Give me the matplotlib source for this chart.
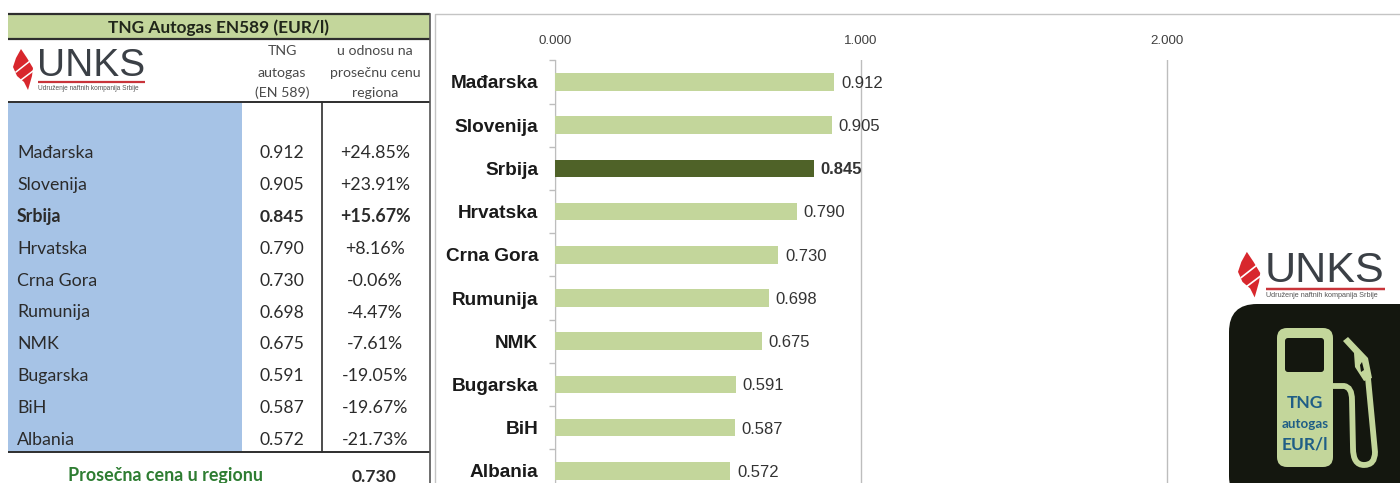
"""
plot.py
Tabla y barras de precios TNG autogas (EUR/l) en la región.
"""

import matplotlib
matplotlib.use("Agg")
import matplotlib.pyplot as plt
from matplotlib.patches import FancyBboxPatch, PathPatch, Polygon, Rectangle
from matplotlib.path import Path

COUNTRIES = ["Mađarska", "Slovenija", "Srbija", "Hrvatska", "Crna Gora",
             "Rumunija", "NMK", "Bugarska", "BiH", "Albania"]
PRICES = [0.912, 0.905, 0.845, 0.790, 0.730, 0.698, 0.675, 0.591, 0.587, 0.572]
PRICE_LABELS = ["0.912", "0.905", "0.845", "0.790", "0.730",
                "0.698", "0.675", "0.591", "0.587", "0.572"]
DIFF_LABELS = ["+24.85%", "+23.91%", "+15.67%", "+8.16%", "-0.06%",
               "-4.47%", "-7.61%", "-19.05%", "-19.67%", "-21.73%"]
HIGHLIGHT = "Srbija"
AVERAGE_LABEL = "0.730"
XTICKS = [0, 1, 2]
XTICK_LABELS = ["0.000", "1.000", "2.000"]

W, H = 1400, 483
TABLE_FONT = "Lato"
CHART_FONT = "Liberation Sans"
LIGHT_GREEN = "#C3D69B"
DARK_GREEN = "#4F6228"
BLUE = "#A6C3E6"
LINE = "#2E2E2E"
TEXT = "#2B2B2B"
PUMP_BLACK = "#14170F"


def draw_logo(ax, x, y, s):
    """Logo UNKS; x,y = esquina sup. izq. de la llama, s = escala."""
    flame = [(8, -1), (14, 8), (20, 18), (19, 26), (15, 40), (11, 32),
             (4, 26), (0, 17), (3, 8)]
    ax.add_patch(Polygon([(x + px * s, y + py * s) for px, py in flame],
                         closed=True, fc="#D8272D", ec="none", zorder=6))
    for (x0, y0), (x1, y1) in (((3, 22), (17, 11)), ((8, 30), (20, 21))):
        ax.plot([x + x0 * s, x + x1 * s], [y + y0 * s, y + y1 * s],
                color="white", lw=1.1 * s, zorder=7)
    ax.text(x + 24 * s, y + 16.5 * s, "UNKS", family=CHART_FONT, fontsize=28 * s,
            color="#3B4046", ha="left", va="center", zorder=6)
    ax.plot([x + 25 * s, x + 132 * s], [y + 32 * s, y + 32 * s], color="#C8343A",
            lw=1.6 * s, solid_capstyle="butt", zorder=6)
    ax.text(x + 25 * s, y + 38 * s, "Udruženje naftnih kompanija Srbije",
            family=CHART_FONT, fontsize=4.7 * s, color="#555555",
            ha="left", va="center", zorder=6)


def draw_pump(ax):
    ax.add_patch(FancyBboxPatch((1229, 304), 200, 200, boxstyle="round,pad=0,rounding_size=28",
                                mutation_scale=1, fc=PUMP_BLACK, ec="none", zorder=5))
    ax.add_patch(FancyBboxPatch((1277, 328), 56, 139, boxstyle="round,pad=0,rounding_size=10",
                                mutation_scale=1, fc=LIGHT_GREEN, ec="none", zorder=6))
    ax.add_patch(FancyBboxPatch((1285, 338), 39, 34, boxstyle="round,pad=0,rounding_size=3",
                                mutation_scale=1, fc=PUMP_BLACK, ec="none", zorder=7))
    hose = Path([(1332, 386), (1344, 386), (1352, 387), (1352, 400),
                 (1353, 448), (1353, 465), (1364, 465), (1375, 465),
                 (1375, 452), (1372, 420), (1368, 378)],
                [Path.MOVETO, Path.LINETO, Path.CURVE3, Path.CURVE3,
                 Path.LINETO, Path.CURVE3, Path.CURVE3, Path.CURVE3,
                 Path.CURVE3, Path.LINETO, Path.LINETO])
    ax.add_patch(PathPatch(hose, fc="none", ec=LIGHT_GREEN, lw=4.2, zorder=6))
    ax.add_patch(Polygon([(1343, 341), (1348, 337), (1368, 358), (1372, 378),
                          (1364, 381), (1355, 367), (1354, 353)],
                         closed=True, fc=LIGHT_GREEN, ec="none", zorder=6))
    ax.add_patch(Polygon([(1360, 365), (1362, 362), (1364, 370), (1361, 372)],
                         closed=True, fc=PUMP_BLACK, ec="none", zorder=7))
    for label, ypos, size in (("TNG", 403, 12.5), ("autogas", 424, 9.6), ("EUR/l", 445, 12.5)):
        ax.text(1305, ypos, label, family=TABLE_FONT, fontweight="bold", fontsize=size,
                color="#1F5E86", ha="center", va="center", zorder=8)


fig = plt.figure(figsize=(W / 100, H / 100), dpi=100, facecolor="white")

# --- capa en píxeles: tabla y decoraciones
bg = fig.add_axes([0, 0, 1, 1])
bg.set_xlim(0, W)
bg.set_ylim(H, 0)
bg.axis("off")

bg.add_patch(Rectangle((8, 14), 422, 25, fc=LIGHT_GREEN, ec="none"))
bg.add_patch(Rectangle((8, 103), 234, 349, fc=BLUE, ec="none"))
for y0, lw in ((14, 1.6), (39, 1.6), (102, 1.4), (452, 1.4)):
    bg.plot([8, 430], [y0, y0], color=LINE, lw=lw, solid_capstyle="butt")
bg.plot([430, 430], [14, H], color="#555555", lw=1.2)
bg.plot([321.5, 321.5], [102, 452], color=LINE, lw=1.2)
bg.plot([435, 435, W], [H, 14, 14], color="#C4C4C4", lw=1.0)

bg.text(219, 28, "TNG Autogas EN589 (EUR/l)", family=TABLE_FONT, fontweight="bold",
        fontsize=12.4, color="#20261A", ha="center", va="center")
for label, ypos in (("TNG", 51), ("autogas", 73), ("(EN 589)", 93)):
    bg.text(282, ypos, label, family=TABLE_FONT, fontsize=10.2, color="#4A4A4A",
            ha="center", va="center")
for label, ypos in (("u odnosu na", 51), ("prosečnu cenu", 73), ("regiona", 93)):
    bg.text(375, ypos, label, family=TABLE_FONT, fontsize=10.2, color="#4A4A4A",
            ha="center", va="center")

for i, name in enumerate(COUNTRIES):
    y0 = 153 + 31.9 * i
    weight = "bold" if name == HIGHLIGHT else "normal"
    bg.text(17, y0, name, family=TABLE_FONT, fontsize=12.8, fontweight=weight,
            color=TEXT, ha="left", va="center")
    bg.text(282, y0, PRICE_LABELS[i], family=TABLE_FONT, fontsize=12.6, fontweight=weight,
            color=TEXT, ha="center", va="center")
    bg.text(375, y0, DIFF_LABELS[i], family=TABLE_FONT, fontsize=12.8, fontweight=weight,
            color=TEXT, ha="center", va="center")

bg.text(165, 476, "Prosečna cena u regionu", family=TABLE_FONT, fontweight="bold",
        fontsize=12.9, color="#2E7D32", ha="center", va="center")
bg.text(374, 477, AVERAGE_LABEL, family=TABLE_FONT, fontweight="bold",
        fontsize=12.6, color=TEXT, ha="center", va="center")

draw_logo(bg, 13, 50, 1.0)
draw_logo(bg, 1238, 253, 1.11)
draw_pump(bg)

# --- barras
ax = fig.add_axes([555 / W, 0, (W - 555) / W, (H - 60) / H])
ax.patch.set_alpha(0)
positions = list(range(len(COUNTRIES)))
colors = [DARK_GREEN if c == HIGHLIGHT else LIGHT_GREEN for c in COUNTRIES]
ax.barh(positions, PRICES, height=0.41, color=colors, zorder=3)

ax.xaxis.tick_top()
ax.set_xticks(XTICKS, XTICK_LABELS, family=CHART_FONT, fontsize=9.6, color="#404040")
ax.tick_params(axis="x", length=0, pad=9)
ax.grid(axis="x", color="#BDBDBD", lw=1.0, zorder=1)

ax.set_yticks(positions, COUNTRIES, family=CHART_FONT, fontsize=13.7, fontweight="bold",
              color="#1A1A1A")
ax.tick_params(axis="y", length=0, pad=12)
ax.set_yticks([p - 0.5 for p in positions] + [9.5], minor=True)
ax.tick_params(axis="y", which="minor", length=4, color="#BDBDBD", width=1.0)

# los límites van después de los ticks, que si no los ensanchan
ax.set_xlim(0, (W - 555) / 306)
ax.set_ylim(9.282, -0.509)

for side in ("top", "right", "bottom"):
    ax.spines[side].set_visible(False)
ax.spines["left"].set_color("#BDBDBD")

for pos, value, label, name in zip(positions, PRICES, PRICE_LABELS, COUNTRIES):
    bold = name == HIGHLIGHT
    ax.annotate(label, (value, pos), xytext=(5, -1), textcoords="offset points",
                family=CHART_FONT, fontsize=12, fontweight="bold" if bold else "normal",
                color="#333333", ha="left", va="center", zorder=4)

fig.savefig("out.png", dpi=100, facecolor="white")
